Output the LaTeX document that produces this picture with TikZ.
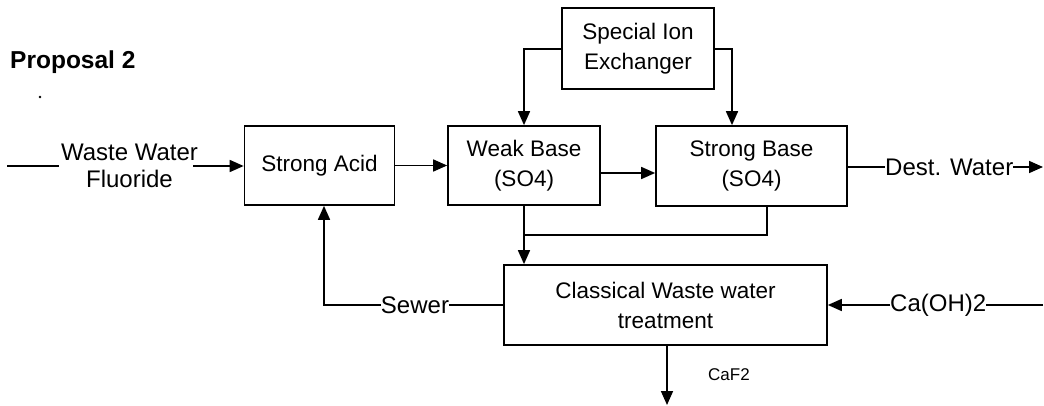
\documentclass[tikz,border=0pt]{standalone}
\usepackage{fontspec}
\setmainfont{Liberation Sans}
\usetikzlibrary{arrows.meta}
\begin{document}
\begin{tikzpicture}[x=1pt,y=-1pt,
  box/.style={draw,line width=1.7pt,minimum width=#1,align=center,inner sep=0pt,font=\fontsize{22.5}{30}\selectfont},
  lbl/.style={inner sep=0pt,align=center,font=\fontsize{24}{27}\selectfont},
  line/.style={line width=1.7pt},
  arr/.style={line width=1.7pt,-{Triangle[length=14pt,width=12pt]}}]
\useasboundingbox (0,0) rectangle (1044,406);
\node[anchor=west,inner sep=0pt,font=\fontsize{24.5}{27}\selectfont\bfseries] (title) at (10,62) {Proposal 2};
\fill (40,97) circle (1.4pt);
\node[box=150pt,minimum height=79pt] (sa) at (319.5,165.5) {Strong Acid};
\node[box=152pt,minimum height=79pt] (wb) at (524,165.5) {Weak Base\\(SO4)};
\node[box=152pt,minimum height=81pt] (sie) at (638,48.5) {Special Ion\\Exchanger};
\node[box=191pt,minimum height=80pt] (sb) at (751.5,166) {Strong Base\\(SO4)};
\node[box=323pt,minimum height=80pt] (cw) at (665.5,305) {Classical Waste water\\treatment};
\node[lbl] (ww) at (129.5,166) {Waste Water\\Fluoride};
\node[lbl,anchor=west] (dw) at (885,167) {Dest. Water};
\node[lbl] (sew) at (415,305) {Sewer};
\node[lbl,anchor=west] (ca) at (890,305) {Ca(OH)2};
\node[inner sep=0pt,font=\fontsize{17}{20}\selectfont] (caf) at (729,375) {CaF2};
\coordinate (in) at (7,166);
\coordinate (out) at (1043,167);
\coordinate (caIn) at (1043,305);
\coordinate (j) at (524,235);
\coordinate (bot) at (667,405);
\draw[line] (in) -- ([xshift=-2pt]ww.west |- in);
\draw[arr] ([xshift=-5pt]ww.east |- in) -- (sa.west |- in);
\draw[arr] (sa.east) -- (wb.west |- sa.east);
\draw[arr] ([yshift=-7.5pt]wb.east) -- ([yshift=-7.5pt]wb.east -| sb.west);
\draw[line] (sb.east |- dw) -- (dw.west);
\draw[arr] (dw.east) -- (out);
\draw[arr] ([yshift=-0.5pt]sie.west) -| (wb.north);
\draw[arr] ([yshift=-0.5pt]sie.east) -| ([xshift=-19.5pt]sb.north);
\draw[arr] (wb.south) -- (wb.south |- cw.north);
\draw[line] ([xshift=15.5pt]sb.south) |- (j);
\draw[line] (cw.west) -- (sew.east);
\draw[arr] (sew.west) -| ([xshift=4.5pt]sa.south);
\draw[line] (caIn) -- (ca.east);
\draw[arr] (ca.west) -- (cw.east |- ca.west);
\draw[arr] ([xshift=1.5pt]cw.south) -- (bot);
\end{tikzpicture}
\end{document}
